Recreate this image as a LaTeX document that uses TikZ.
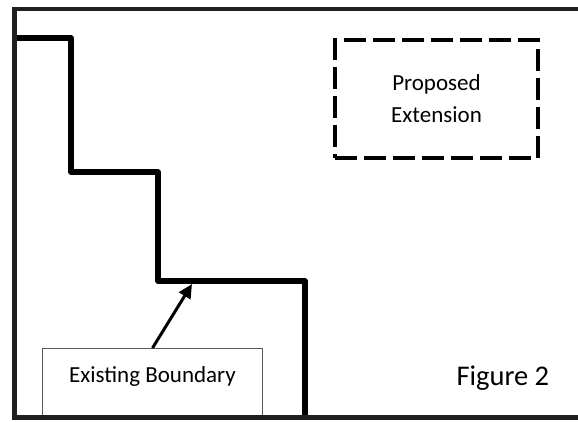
\documentclass[tikz,border=0pt]{standalone}
\usepackage{fontspec}
\setmainfont{Carlito}
\usetikzlibrary{arrows.meta}
\tikzset{
    frameline/.style={line width=4.5pt,color=black!88},
    boundary/.style={line width=5.5pt,line join=round},
    extbox/.style={draw,line width=3.5pt,dash pattern=on 22pt off 7pt,
        minimum width=203pt,minimum height=118pt,align=center,
        font=\fontsize{23}{32}\selectfont},
    labelbox/.style={draw=black!65,line width=1pt,inner sep=0pt,
        minimum width=220pt,text height=34pt,text depth=36pt,
        font=\fontsize{23}{28}\selectfont},
}
\begin{document}
\begin{tikzpicture}[x=1pt,y=-1pt]
    \useasboundingbox (0,0) rectangle (578,421);
    \node[extbox] (ext) at (436.5,99) {Proposed\\Extension};
    \node[labelbox,anchor=north west] (exist) at (42,348) {Existing Boundary};
    \draw[boundary] (14.5,38) -- (71,38) -- (71,172) -- (158,172)
        -- (158,281) -- (305,281) -- (305,417.5);
    \coordinate (tip) at (192,284);
    \draw[line width=3pt,-{Triangle[length=14pt,width=13pt]}] (exist.north) -- (tip);
    \node[anchor=base west,font=\fontsize{28.5}{34}\selectfont] (fig) at (453,385) {Figure 2};
    \draw[frameline] (578,9) -- (14.5,9) -- (14.5,417.5) -- (578,417.5);
\end{tikzpicture}
\end{document}
